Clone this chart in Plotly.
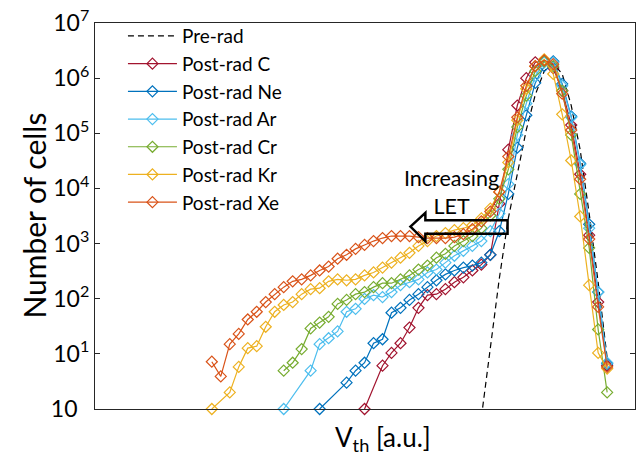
import plotly.graph_objects as go

# bin index along V_th (arbitrary units)
v_bins = list(range(45))

pre_rad = [None] * 30 + [0.7, 12.7, 234, 2860, 18000, 115000, 500000, 1340000, 1860000,
                          1190000, 320000, 50000, 3500, 199, 8.4]

post_c = [None] * 17 + [1.0, None, 6.1,
                         10.4, 15.6, 30, 68.4, 116, 121, 149, 199, 244, 325,
                         415, 626, 5280, 50400, 319000, 1000000, 1940000, 2020000, 1520000, 590000,
                         141000, 18100, 1422, 87, 6.1]

post_ne = [None] * 12 + [1.0, None, None, 3.0, 4.95, 6.9, 15.6, 18.4,
                          55.7, 68.4, 95, 121, 162, 216, 276, 325, 367, 399,
                          451, 626, 1675, 7960, 54700, 212000, 820000, 1650000, 2020000, 787000,
                          203000, 28400, 2233, 132, 6.6]

post_ar = [None] * 8 + [1.0, None,
                         None, 4.95, 15, 19.2, 25.5, 58, 65.6, 98.9, 116, 107,
                         132, 176, 199, 224, 299, 338, 451, 601, 738, 906,
                         1110, 1675, 3508, 12000, 93300, 347000, 1090000, 1940000, 1940000, 726000,
                         195000, 27200, 1900, 132, 6.9]

post_cr = [None] * 8 + [4.95, 6.9,
                         12.2, 28.9, 37, 47, 80.5, 95, 121, 132, 162, 191,
                         191, 224, 265, 338, 399, 554, 652, 906, 1110, 1370,
                         1900, 3230, 6490, 22200, 129500, 481000, 1340000, 2020000, 1650000, 590000,
                         93300, 7960, 834, 27.7, 2.0]

post_kr = [1.0, None, 2.0, 5.8, 12.7, 13.8, 31, 58, 77, 87,
           121, 149, 155, 207, 224, 216, 224, 265, 299, 367,
           451, 554, 680, 906, 1110, 1370, 1550, 1750, 1900, 2140,
           2860, 4300, 8650, 29600, 172600, 641000, 1650000, 2190000, 1190000, 220800,
           32100, 3100, 176, 10.4, 5.4]

post_xe = [7.2, 3.9, 15, 23, 42, 58, 87, 121, 162, 207,
           224, 265, 325, 383, 531, 626, 801, 944, 1110, 1260,
           1370, 1370, 1370, 1310, 1260, 1260, 1260, 1310, 1480, 1820,
           2530, 3800, 8650, 37800, 195000, 726000, 1650000, 2110000, 1790000, 522000,
           114600, 14730, 1207, 71, 5.8]

series_names = ["Post-rad C", "Post-rad Ne", "Post-rad Ar", "Post-rad Cr", "Post-rad Kr", "Post-rad Xe"]
series_values = [post_c, post_ne, post_ar, post_cr, post_kr, post_xe]
series_colors = ["#A2142F", "#0072BD", "#4DBEEE", "#77AC30", "#EDB120", "#D95319"]

y_tickvals = [1, 10, 100, 1000, 1e4, 1e5, 1e6, 1e7]
y_ticktext = ["10\u00a0\u00a0", "10<sup>1</sup>", "10<sup>2</sup>", "10<sup>3</sup>",
              "10<sup>4</sup>", "10<sup>5</sup>", "10<sup>6</sup>", "10<sup>7</sup>"]

FONT = "Lato"
AX = "#262626"

fig = go.Figure()
fig.add_trace(go.Scatter(x=v_bins, y=pre_rad, mode="lines", name="Pre-rad",
                         line=dict(color="#000000", width=1.2, dash="6px,4px")))
for name, vals, col in zip(series_names, series_values, series_colors):
    fig.add_trace(go.Scatter(x=v_bins, y=vals, mode="lines+markers", name=name,
                             connectgaps=True, cliponaxis=False,
                             line=dict(color=col, width=1.2),
                             marker=dict(symbol="diamond-open", size=8.5,
                                         line=dict(color=col, width=1.2))))

W, H = 641, 457
L, R, T, B = 95, 5, 16, 48
pw, ph = W - L - R, H - T - B

def px(xp):
    return (xp - L) / pw

def py(yp):
    return (H - B - yp) / ph

arrow_pts = [(411, 223.3), (426, 209.3), (426, 216.7), (508.3, 216.7),
             (508.3, 230.7), (426, 230.7), (426, 238.3)]
path = "M" + " L".join(f"{px(a):.4f},{py(b):.4f}" for a, b in arrow_pts) + " Z"

fig.update_layout(
    width=W, height=H,
    margin=dict(l=L, r=R, t=T, b=B),
    paper_bgcolor="white", plot_bgcolor="white",
    font=dict(family=FONT, color=AX),
    showlegend=True,
    legend=dict(x=px(123), y=py(10), xanchor="left", yanchor="top",
                bgcolor="rgba(0,0,0,0)", font=dict(size=19, color="#000000", family=FONT),
                itemwidth=49, tracegroupgap=0),
    xaxis=dict(range=[-13, 47.1], showticklabels=False, ticks="", showgrid=False,
               zeroline=False, showline=True, linecolor=AX, linewidth=1.2, mirror=True),
    yaxis=dict(type="log", range=[0, 7], tickvals=y_tickvals, ticktext=y_ticktext,
               ticks="inside", ticklen=5, tickwidth=1.2, tickcolor=AX,
               ticklabeloverflow="allow",
               showgrid=False, zeroline=False, showline=True, linecolor=AX, linewidth=1.2,
               mirror="ticks", tickfont=dict(size=23, color="#000000", family=FONT)),
    shapes=[dict(type="path", path=path, xref="paper", yref="paper",
                 line=dict(color="#000000", width=2.5), fillcolor="rgba(0,0,0,0)", layer="above")],
    annotations=[
        dict(text="Increasing<br>LET", x=px(452.5), y=py(188), xref="paper", yref="paper",
             showarrow=False, font=dict(size=21.5, color="#000000", family=FONT),
             xanchor="center", yanchor="middle"),
        dict(text="V<sub>th</sub> [a.u.]", x=px(384), y=py(439), xref="paper", yref="paper",
             showarrow=False, font=dict(size=26, color="#000000", family=FONT),
             xanchor="center", yanchor="middle"),
        dict(text="Number of cells", x=px(33), y=py(212), xref="paper", yref="paper",
             showarrow=False, textangle=-90, font=dict(size=30, color="#000000", family=FONT),
             xanchor="center", yanchor="middle"),
    ],
)

fig.write_html("out.html", config={"displayModeBar": False},
               post_script="document.body.style.margin='0px';")
